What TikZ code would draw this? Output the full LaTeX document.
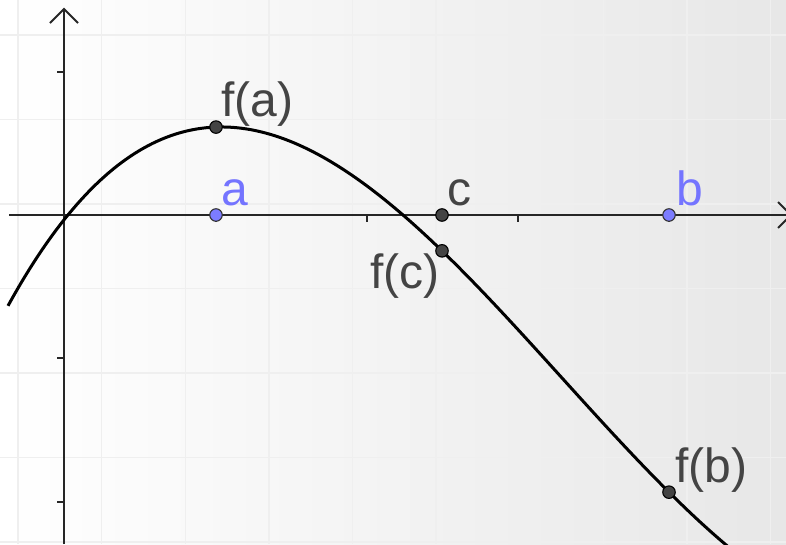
\documentclass[tikz,border=0pt]{standalone}
\usepackage{fontspec}
\setmainfont{Liberation Sans}
\definecolor{gridc}{HTML}{EFEFEF}
\definecolor{bgright}{HTML}{E7E7E7}
\definecolor{bgmid}{HTML}{F5F5F5}
\definecolor{ptdark}{HTML}{444444}
\definecolor{ptblue}{HTML}{7C7CFF}
\definecolor{txtdark}{HTML}{444444}
\definecolor{txtblue}{HTML}{7474FF}
\begin{document}
\begin{tikzpicture}[x=1pt,y=-1pt,
  declare function={f(\t)=0.0767*(\t-0.026)*(\t-2.245)*(\t-7.61);},
  axis/.style={line width=1.8pt, draw=black!85},
  gridline/.style={line width=1.4pt, draw=gridc},
  fn/.style={line width=3pt, draw=black},
  darkpt/.style={circle, inner sep=0pt, minimum size=12.5pt, fill=ptdark, draw=black, line width=1.1pt},
  bluept/.style={circle, inner sep=0pt, minimum size=12.5pt, fill=ptblue, draw=black!80, line width=1.1pt},
  lbl/.style={anchor=base west, inner sep=0pt, font=\fontsize{48}{52}\selectfont, text=txtdark},
  blbl/.style={lbl, text=txtblue}]
\useasboundingbox (0,0) rectangle (786,544);
\clip (0,0) rectangle (786,544);
% background
\shade[left color=white, middle color=bgmid, right color=bgright] (0,0) rectangle (786,544);
% grid
\foreach \k in {0,...,9} \draw[gridline] ({18+83.6*\k},0) -- ({18+83.6*\k},544);
\foreach \k in {0,...,6} \draw[gridline] (0,{35+84.5*\k}) -- (786,{35+84.5*\k});
% axes
\draw[axis] (9,215) -- (791,215);
\draw[axis] (64,544) -- (64,9);
\draw[axis, line join=miter] (50,23) -- (64,9) -- (78,23);
\draw[axis, line join=miter] (778,202) -- (791,215) -- (778,228);
% ticks
\foreach \t in {72,358,502} \draw[axis] (57,\t) -- (64,\t);
\foreach \t in {216,367,518,669} \draw[axis] (\t,215) -- (\t,222);
% curve
\draw[fn] plot[domain=8:760, samples=220, variable=\px] (\px, {215-143*f((\px-64)/151)});
% points
\node[bluept] (A) at (216,215) {};
\node[darkpt] (C) at (442,215) {};
\node[bluept] (B) at (669,215) {};
\node[darkpt] (FA) at (216,{215-143*f(152/151)}) {};
\node[darkpt] (FC) at (442,{215-143*f(378/151)}) {};
\node[darkpt] (FB) at (669,{215-143*f(605/151)}) {};
% labels
\node[lbl] (LFA) at (221,116) {f(a)};
\node[blbl] (LA) at (221,205) {a};
\node[lbl] (LC) at (447,205) {c};
\node[blbl] (LB) at (676,205) {b};
\node[lbl] (LFC) at (370,288) {f(c)};
\node[lbl] (LFB) at (675,482) {f(b)};
\end{tikzpicture}
\end{document}
